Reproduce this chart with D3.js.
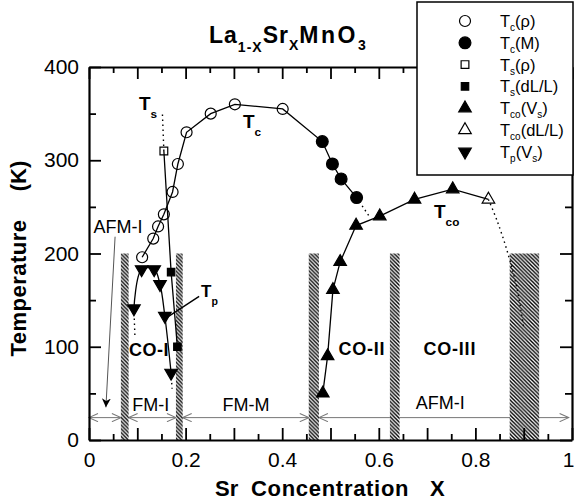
<!DOCTYPE html>
<html>
<head>
<script src="https://d3js.org/d3.v7.min.js"></script>
<style>
  body { margin: 0; background: #fff; }
  text { font-family: "Liberation Sans", Arial, Helvetica, sans-serif; fill: #000; }
</style>
</head>
<body>
<div id="chart"></div>
<script>
// ---- data ----
// Tc from resistivity (open circles)
const tcRhoX = [0.11, 0.133, 0.143, 0.155, 0.173, 0.184, 0.202, 0.252, 0.302, 0.401];
const tcRhoT = [196, 216, 229, 242, 266, 296, 330, 350, 360, 355];
// Tc from magnetization (filled circles)
const tcMX = [0.483, 0.504, 0.522, 0.554];
const tcMT = [320, 296, 280, 260];
// Ts from resistivity (open square) and dL/L (filled squares)
const tsRhoX = [0.155];
const tsRhoT = [310];
const tsDlX = [0.170, 0.183];
const tsDlT = [180, 100];
// Tco from sound velocity (filled up triangles) and dL/L (open up triangle)
const tcoVsX = [0.484, 0.494, 0.505, 0.520, 0.553, 0.602, 0.674, 0.753];
const tcoVsT = [50, 90, 161, 191, 230, 240, 258, 269];
const tcoDlX = [0.827];
const tcoDlT = [258];
// Tp from sound velocity (filled down triangles)
const tpX = [0.093, 0.109, 0.135, 0.147, 0.157, 0.170];
const tpT = [141, 183, 183, 167, 133, 72];

// dotted guide lines
const tsGuide = [[0.155, 310], [0.152, 350]];
const tcGuide = [[0.554, 260], [0.580, 240]];
const tcoGuide = [[0.827, 258], [0.845, 235], [0.865, 204], [0.885, 165], [0.900, 121]];
const tpGuideL = [[0.093, 141], [0.095, 112]];
const tpGuideR = [[0.170, 72], [0.172, 55]];

// hatched phase boundaries (x from, x to), height in K
const bandFrom = [0.066, 0.180, 0.455, 0.623, 0.871];
const bandTo   = [0.082, 0.194, 0.476, 0.643, 0.932];
const bandTop = 200;

// ground-state arrows at T = 24 K
const arrowFrom = [0.0, 0.082, 0.194, 0.476];
const arrowTo   = [0.066, 0.180, 0.455, 0.993];
const arrowT = 24;

// ticks
const xMajorTicks = [0, 0.1, 0.2, 0.3, 0.4, 0.5, 0.6, 0.7, 0.8, 0.9, 1];
const xMinorTicks = [0.05, 0.15, 0.25, 0.35, 0.45, 0.55, 0.65, 0.75, 0.85, 0.95];
const xLabelTicks = [0, 0.2, 0.4, 0.6, 0.8, 1];
const yMajorTicks = [0, 100, 200, 300, 400];
const yMinorTicks = [50, 150, 250, 350];

// ---- layout ----
const W = 574, H = 502;
const svg = d3.select("#chart").append("svg")
  .attr("width", W).attr("height", H)
  .style("background", "#fff");

const x = d3.scaleLinear().domain([0, 1]).range([89, 572]);
const y = d3.scaleLinear().domain([0, 400]).range([440, 67]);

// hatch pattern
const defs = svg.append("defs");
const pat = defs.append("pattern")
  .attr("id", "hatch").attr("patternUnits", "userSpaceOnUse")
  .attr("width", 3.8).attr("height", 3.8);
pat.append("rect").attr("width", 3.8).attr("height", 3.8).attr("fill", "#fff");
pat.append("path")
  .attr("d", "M-1,-1 L4.8,4.8 M2.8,-1 L4.8,1 M-1,2.8 L1,4.8")
  .attr("stroke", "#000").attr("stroke-width", 1.4);

function arrowHead(id, color, filled) {
  const m = defs.append("marker")
    .attr("id", id).attr("viewBox", "0 0 10 10")
    .attr("refX", 10).attr("refY", 5)
    .attr("markerUnits", "userSpaceOnUse")
    .attr("markerWidth", filled ? 9 : 11).attr("markerHeight", filled ? 12 : 9)
    .attr("orient", "auto-start-reverse");
  if (filled) {
    m.append("path").attr("d", "M0,0 L10,5 L0,10 L3,5 Z").attr("fill", "#000");
  } else {
    m.append("path").attr("d", "M0,0.5 L10,5 L0,9.5").attr("fill", "none")
      .attr("stroke", color).attr("stroke-width", 1.2);
  }
}
arrowHead("openArrow", "#777", false);
arrowHead("solidArrow", "#000", true);

// ground-state arrows
arrowFrom.forEach((a, i) => {
  svg.append("line")
    .attr("x1", x(a)).attr("x2", x(arrowTo[i]))
    .attr("y1", y(arrowT)).attr("y2", y(arrowT))
    .attr("stroke", "#777").attr("stroke-width", 1)
    .attr("marker-start", "url(#openArrow)")
    .attr("marker-end", "url(#openArrow)");
});

// hatched bands
svg.selectAll("rect.band").data(bandFrom).join("rect")
  .attr("class", "band")
  .attr("x", d => x(d))
  .attr("width", (d, i) => x(bandTo[i]) - x(d))
  .attr("y", y(bandTop))
  .attr("height", y(0) - y(bandTop))
  .attr("fill", "url(#hatch)");

// ---- axes ----
function styleAxis(g) {
  g.select(".domain").attr("stroke-width", 2.2);
  g.selectAll(".tick line").attr("stroke-width", 1.8);
  g.selectAll("text").style("font-size", "21px")
    .style("font-family", "'Liberation Sans', Arial, sans-serif");
}
const fmtX = d => xLabelTicks.includes(d) ? d3.format("~g")(d) : "";

svg.append("g").attr("transform", `translate(0,${y(0)})`)
  .call(d3.axisBottom(x).tickValues(xMajorTicks).tickSize(-12).tickSizeOuter(0)
    .tickPadding(12).tickFormat(fmtX))
  .call(styleAxis)
  .call(g => g.selectAll(".tick text").filter(d => d === 1).attr("text-anchor", "end").attr("x", 2));
svg.append("g").attr("transform", `translate(0,${y(0)})`)
  .call(d3.axisBottom(x).tickValues(xMinorTicks).tickSize(-6).tickFormat(""))
  .call(g => g.select(".domain").remove())
  .call(styleAxis);

svg.append("g").attr("transform", `translate(0,${y(400)})`)
  .call(d3.axisTop(x).tickValues(xMajorTicks).tickSize(-12).tickSizeOuter(0).tickFormat(""))
  .call(styleAxis);
svg.append("g").attr("transform", `translate(0,${y(400)})`)
  .call(d3.axisTop(x).tickValues(xMinorTicks).tickSize(-6).tickFormat(""))
  .call(g => g.select(".domain").remove())
  .call(styleAxis);

svg.append("g").attr("transform", `translate(${x(0)},0)`)
  .call(d3.axisLeft(y).tickValues(yMajorTicks).tickSize(-12).tickSizeOuter(0)
    .tickPadding(10).tickFormat(d3.format("d")))
  .call(styleAxis);
svg.append("g").attr("transform", `translate(${x(0)},0)`)
  .call(d3.axisLeft(y).tickValues(yMinorTicks).tickSize(-7).tickFormat(""))
  .call(g => g.select(".domain").remove())
  .call(styleAxis);

svg.append("g").attr("transform", `translate(${x(1)},0)`)
  .call(d3.axisRight(y).tickValues(yMajorTicks).tickSize(-12).tickSizeOuter(0).tickFormat(""))
  .call(styleAxis);
svg.append("g").attr("transform", `translate(${x(1)},0)`)
  .call(d3.axisRight(y).tickValues(yMinorTicks).tickSize(-7).tickFormat(""))
  .call(g => g.select(".domain").remove())
  .call(styleAxis);

// ---- lines ----
const zip = (xs, ts) => xs.map((d, i) => [d, ts[i]]);
const line = d3.line().x(d => x(d[0])).y(d => y(d[1]));
const smooth = d3.line().x(d => x(d[0])).y(d => y(d[1])).curve(d3.curveCatmullRom.alpha(0.5));

function drawLine(pts, gen, dashed) {
  svg.append("path").attr("d", gen(pts))
    .attr("fill", "none").attr("stroke", "#000")
    .attr("stroke-width", dashed ? 1.4 : 1.3)
    .attr("stroke-dasharray", dashed ? "1.5,3.5" : null);
}

drawLine(zip(tcRhoX, tcRhoT).concat(zip(tcMX, tcMT)), line, false);
drawLine(zip(tsRhoX, tsRhoT).concat(zip(tsDlX, tsDlT)), line, false);
drawLine(zip(tcoVsX, tcoVsT).concat(zip(tcoDlX, tcoDlT)), line, false);
drawLine(zip(tpX, tpT), smooth, false);
drawLine(tsGuide, line, true);
drawLine(tcGuide, line, true);
drawLine(tcoGuide, smooth, true);
drawLine(tpGuideL, line, true);
drawLine(tpGuideR, line, true);

// ---- markers ----
const sym = (type, size) => d3.symbol().type(type).size(size)();
function drawMarkers(xs, ts, type, size, filled, rot) {
  svg.append("g").selectAll("path").data(zip(xs, ts)).join("path")
    .attr("d", sym(type, size))
    .attr("transform", d => `translate(${x(d[0])},${y(d[1])})` + (rot ? " rotate(180)" : ""))
    .attr("fill", filled ? "#000" : "none")
    .attr("stroke", "#000").attr("stroke-width", 1.2);
}
drawMarkers(tcRhoX, tcRhoT, d3.symbolCircle, 95, false);
drawMarkers(tcMX, tcMT, d3.symbolCircle, 110, true);
drawMarkers(tsRhoX, tsRhoT, d3.symbolSquare, 60, false);
drawMarkers(tsDlX, tsDlT, d3.symbolSquare, 55, true);
drawMarkers(tcoVsX, tcoVsT, d3.symbolTriangle, 68, true);
drawMarkers(tcoDlX, tcoDlT, d3.symbolTriangle, 68, false);
drawMarkers(tpX, tpT, d3.symbolTriangle, 68, true, true);

// ---- annotations ----
function label(px, py, txt, size, bold, anchor) {
  return svg.append("text").attr("x", px).attr("y", py)
    .attr("text-anchor", anchor || "middle")
    .style("font-size", size + "px")
    .style("font-weight", bold ? "bold" : "normal")
    .text(txt);
}
label(x(0.124), 356, "CO-I", 18, true).style("letter-spacing", "0.5px");
label(x(0.565), 355, "CO-II", 18, true).style("letter-spacing", "0.8px");
label(x(0.747), 355, "CO-III", 18, true).style("letter-spacing", "0.8px");
label(x(0.128), 411, "FM-I", 18, false);
label(x(0.325), 411, "FM-M", 18, false);
label(x(0.727), 409, "AFM-I", 18, false);
label(x(0.060), 233, "AFM-I", 18, false);

// AFM-I pointer at low x
svg.append("line")
  .attr("x1", x(0.054)).attr("y1", y(218))
  .attr("x2", x(0.035)).attr("y2", y(35))
  .attr("stroke", "#555").attr("stroke-width", 1)
  .attr("marker-end", "url(#solidArrow)");

// Tp pointer
svg.append("line")
  .attr("x1", x(0.228)).attr("y1", y(154))
  .attr("x2", x(0.160)).attr("y2", y(131))
  .attr("stroke", "#000").attr("stroke-width", 1.4);

function tLabel(px, py, sub, size) {
  const t = svg.append("text").attr("x", px).attr("y", py)
    .style("font-size", size + "px").style("font-weight", "bold");
  t.append("tspan").text("T");
  t.append("tspan").attr("dy", 8).style("font-size", (size * 0.62) + "px").text(sub);
}
tLabel(139, 110, "s", 19);
tLabel(243, 128, "c", 19);
tLabel(434, 218, "co", 19);
tLabel(201, 297, "p", 17);

// title
const title = svg.append("text").attr("x", 209).attr("y", 43)
  .style("font-size", "23px").style("font-weight", "bold").style("letter-spacing", "1px");
title.append("tspan").text("La");
title.append("tspan").attr("dy", 9).style("font-size", "14px").text("1-X");
title.append("tspan").attr("dy", -9).text("Sr");
title.append("tspan").attr("dy", 7).style("font-size", "14px").text("X");
title.append("tspan").attr("dy", -7).style("letter-spacing", "2.5px").text("MnO");
title.append("tspan").attr("dy", 7).style("font-size", "14px").text("3");

// axis titles
label(215, 496, "Sr", 22, true, "start");
label(251, 496, "Concentration", 22, true, "start").style("letter-spacing", "0.7px");
label(430, 496, "X", 22, true, "start");
svg.append("text").attr("transform", "translate(26,288) rotate(-90)")
  .attr("text-anchor", "middle").style("font-size", "22px").style("font-weight", "bold")
  .style("letter-spacing", "0.5px").text("Temperature");
svg.append("text").attr("transform", "translate(26,176) rotate(-90)")
  .attr("text-anchor", "middle").style("font-size", "22px").style("font-weight", "bold")
  .text("(K)");

// ---- legend ----
const legendItems = [
  { main: "T", sub: "c", rest: "(ρ)", type: d3.symbolCircle, size: 95, filled: false },
  { main: "T", sub: "c", rest: "(M)", type: d3.symbolCircle, size: 110, filled: true },
  { main: "T", sub: "s", rest: "(ρ)", type: d3.symbolSquare, size: 60, filled: false },
  { main: "T", sub: "s", rest: "(dL/L)", type: d3.symbolSquare, size: 55, filled: true },
  { main: "T", sub: "co", rest: "(V", sub2: "s", type: d3.symbolTriangle, size: 68, filled: true },
  { main: "T", sub: "co", rest: "(dL/L)", type: d3.symbolTriangle, size: 68, filled: false },
  { main: "T", sub: "p", rest: "(V", sub2: "s", type: d3.symbolTriangle, size: 68, filled: true, rot: true }
];
const lg = svg.append("g");
lg.append("rect").attr("x", 417).attr("y", 2).attr("width", 156).attr("height", 173)
  .attr("fill", "#fff").attr("stroke", "#000").attr("stroke-width", 1.5);
legendItems.forEach((d, i) => {
  const cy = 21 + i * 21.8;
  lg.append("path").attr("d", sym(d.type, d.size))
    .attr("transform", `translate(465,${cy})` + (d.rot ? " rotate(180)" : ""))
    .attr("fill", d.filled ? "#000" : "none").attr("stroke", "#000").attr("stroke-width", 1.2);
  const t = lg.append("text").attr("x", 500).attr("y", cy + 6).style("font-size", "16.5px");
  t.append("tspan").text(d.main);
  t.append("tspan").attr("dy", 4).style("font-size", "10px").text(d.sub);
  t.append("tspan").attr("dy", -4).text(d.rest);
  if (d.sub2) {
    t.append("tspan").attr("dy", 4).style("font-size", "10px").text(d.sub2);
    t.append("tspan").attr("dy", -4).text(")");
  }
});
</script>
</body>
</html>
